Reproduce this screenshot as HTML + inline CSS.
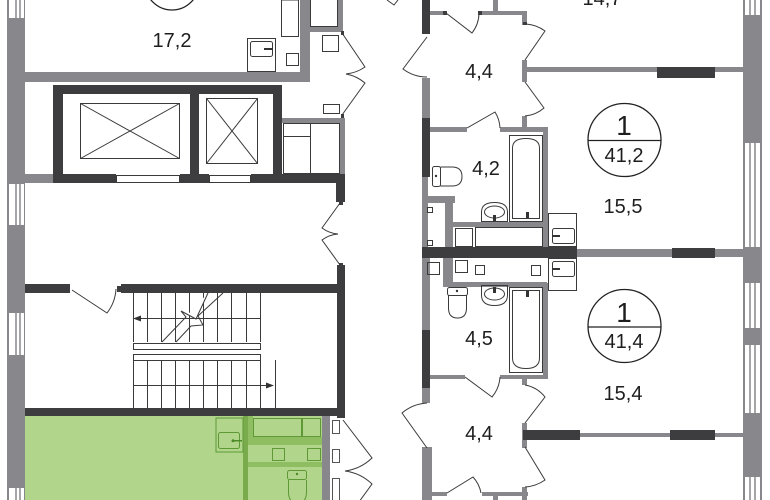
<!DOCTYPE html>
<html><head><meta charset="utf-8"><style>html,body{margin:0;padding:0;background:#fff;width:770px;height:500px;overflow:hidden}svg{display:block}</style></head>
<body>
<svg width="770" height="500" viewBox="0 0 770 500" xmlns="http://www.w3.org/2000/svg">
<rect width="770" height="500" fill="#fff"/>
<rect x="25" y="416" width="297" height="84" fill="#b2d58c"/>
<g fill="#8fbd62">
<rect x="248" y="416" width="5" height="21"/>
<rect x="248" y="437" width="74" height="8"/>
<rect x="248" y="462" width="74" height="5"/>
</g>
<rect x="243" y="416" width="5" height="84" fill="#79aa4c"/>
<g fill="none" stroke="#5e9936" stroke-width="1">
<rect x="216" y="418" width="27" height="34"/>
<rect x="218.5" y="432.5" width="21" height="16" rx="2"/>
<rect x="253.5" y="418.5" width="48" height="18"/>
<rect x="302.5" y="418.5" width="18" height="18"/>
<rect x="272.5" y="448.5" width="12" height="12"/>
<rect x="307.5" y="448.5" width="13" height="12"/>
<rect x="287.5" y="470.5" width="19" height="9" rx="2"/>
<path d="M288.5,480 L288.5,492 Q288.5,503 297.5,503 Q306.5,503 306.5,492 L306.5,480"/>
</g>
<circle cx="297" cy="474" r="1.2" fill="#4d8a28"/>
<rect x="233" y="440" width="9" height="1.5" fill="#4d8a28"/>
<circle cx="233" cy="440.7" r="1.5" fill="#4d8a28"/>
<text x="138" y="514" font-family="Liberation Sans, sans-serif" font-size="20" text-anchor="middle" fill="#2c3a1e">19,4</text>

<g fill="#88888c">
<rect x="7" y="0" width="18" height="500"/>
<rect x="743" y="0" width="19" height="500"/>
<rect x="25" y="72" width="285" height="10"/>
<rect x="300" y="0" width="10" height="82"/>
<rect x="309" y="27" width="34" height="5"/>
<rect x="338" y="0" width="5" height="32"/>
<rect x="25" y="174" width="37" height="9"/>
<rect x="282" y="118" width="63" height="5"/>
<rect x="340" y="118" width="5" height="56"/>
<rect x="430" y="11" width="15" height="4"/>
<rect x="480" y="11" width="47" height="4"/>
<rect x="493" y="0" width="5" height="13"/>
<rect x="522" y="11" width="5" height="14"/>
<rect x="422" y="78" width="8" height="40"/>
<rect x="522" y="60" width="5" height="22"/>
<rect x="527" y="67" width="216" height="5"/>
<rect x="430" y="127" width="37" height="5"/>
<rect x="500" y="127" width="48" height="5"/>
<rect x="522" y="116" width="5" height="14"/>
<rect x="543" y="127" width="5" height="120"/>
<rect x="422" y="177" width="6" height="73"/>
<rect x="422" y="196" width="33" height="7"/>
<rect x="445" y="196" width="8" height="52"/>
<rect x="453" y="222" width="90" height="5"/>
<rect x="577" y="249" width="95" height="8"/>
<rect x="715" y="249" width="28" height="8"/>
<rect x="422" y="258" width="8" height="72"/>
<rect x="443" y="258" width="10" height="29"/>
<rect x="453" y="282" width="94" height="5"/>
<rect x="543" y="283" width="5" height="95"/>
<rect x="430" y="375" width="35" height="4"/>
<rect x="500" y="375" width="48" height="4"/>
<rect x="522" y="377" width="5" height="8"/>
<rect x="422" y="388" width="8" height="15"/>
<rect x="580" y="433" width="92" height="4"/>
<rect x="715" y="433" width="28" height="4"/>
<rect x="522" y="423" width="5" height="25"/>
<rect x="522" y="487" width="5" height="13"/>
<rect x="422" y="447" width="10" height="53"/>
<rect x="430" y="492" width="17" height="4"/>
<rect x="482" y="492" width="46" height="4"/>
<rect x="493" y="492" width="5" height="8"/>
<rect x="322" y="416" width="8" height="84"/>
</g>

<g fill="#3d3d40">
<rect x="53" y="85" width="229" height="9"/>
<rect x="53" y="85" width="10" height="98"/>
<rect x="190" y="85" width="9" height="98"/>
<rect x="273" y="85" width="9" height="98"/>
<rect x="62" y="174" width="54" height="9"/>
<rect x="180" y="174" width="29" height="9"/>
<rect x="251" y="174" width="94" height="9"/>
<rect x="336" y="174" width="9" height="28"/>
<rect x="25" y="284" width="45" height="9"/>
<rect x="117" y="286" width="5" height="6"/>
<rect x="121" y="284" width="216" height="9"/>
<rect x="337" y="265" width="8" height="153"/>
<rect x="25" y="408" width="320" height="8"/>
<rect x="422" y="0" width="8" height="34"/>
<rect x="422" y="118" width="8" height="59"/>
<rect x="422" y="247" width="155" height="11"/>
<rect x="672" y="248" width="43" height="10"/>
<rect x="657" y="67" width="58" height="11"/>
<rect x="422" y="330" width="8" height="58"/>
<rect x="523" y="430" width="57" height="10"/>
<rect x="670" y="430" width="45" height="10"/>
<rect x="443" y="11" width="4" height="4"/>
<rect x="478" y="11" width="4" height="4"/>
<rect x="523" y="22" width="4" height="3"/>
<rect x="341" y="31" width="3" height="4"/>
<rect x="341" y="114" width="3" height="4"/>
<rect x="339" y="201" width="4" height="4"/>
<rect x="339" y="263" width="4" height="4"/>
</g>

<g fill="#fff">
<rect x="9" y="0" width="15" height="18"/>
<rect x="9" y="184" width="15" height="41"/>
<rect x="9" y="313" width="15" height="42"/>
<rect x="9" y="488" width="15" height="12"/>
<rect x="745" y="0" width="15" height="15"/>
<rect x="745" y="143" width="15" height="104"/>
<rect x="745" y="283" width="15" height="45"/>
<rect x="745" y="345" width="15" height="68"/>
<rect x="745" y="477" width="15" height="23"/>
</g>
<g stroke="#88888c" stroke-width="1.5">
<path d="M16,0V18M20,0V18M16,184V225M20,184V225M16,313V355M20,313V355M16,488V500M20,488V500"/>
<path d="M750,0V15M755,0V15M750,143V247M755,143V247M750,283V328M755,283V328M750,345V413M755,345V413M750,477V500M755,477V500"/>
</g>

<g fill="none" stroke="#3a3a3a" stroke-width="1">
<rect x="116.5" y="175.5" width="63" height="7" fill="#fff"/>
<rect x="209.5" y="175.5" width="41" height="7" fill="#fff"/>
<rect x="80.5" y="103.5" width="99" height="55"/>
<path d="M80.5,103.5L179.5,158.5M179.5,103.5L80.5,158.5"/>
<rect x="206.5" y="98.5" width="51" height="65"/>
<path d="M206.5,98.5L257.5,163.5M257.5,98.5L206.5,163.5"/>
<rect x="283.5" y="123.5" width="27" height="13"/>
<rect x="283.5" y="136.5" width="27" height="37"/>
<rect x="310.5" y="123.5" width="29" height="50"/>
<rect x="247.5" y="38.5" width="28" height="33"/>
<rect x="250.5" y="41.5" width="22" height="15" rx="2"/>
<rect x="281.5" y="0" width="17" height="36.5"/>
<rect x="286.5" y="53.5" width="12" height="12"/>
<rect x="310.5" y="-1" width="27" height="27.5"/>
<rect x="322.5" y="35.5" width="16" height="16"/>
<rect x="323.5" y="104.5" width="16" height="9"/>
<circle cx="172" cy="-17" r="27" stroke="#222" stroke-width="1.3"/>
<path d="M342,33 L365,67 A41,41 0 0 1 346,74 A41,41 0 0 1 365,83 L342,115"/>
<path d="M340,203 L322,228 A31,31 0 0 0 338,234 A31,31 0 0 0 322,240 L340,265"/>
<path d="M343,420 L372,458 A48,48 0 0 1 345,471 A48,48 0 0 1 372,484 L343,524"/>
<path d="M387,0 L394,5 L398,0"/>
<path d="M427,37 L403,69 A40,40 0 0 0 427,77"/>
<path d="M446,13 L472,33 A33,33 0 0 0 479,13"/>
<path d="M526,24 A36,36 0 0 1 545,31 L525,60"/>
<path d="M525,82 L544,108 A33,33 0 0 1 525,116"/>
<path d="M467,128 L495,112 A33,33 0 0 1 500,128"/>
<path d="M465,377 L492,397 A34,34 0 0 0 500,377"/>
<path d="M525,385 A33,33 0 0 1 545,397 L525,423"/>
<path d="M525,447 L545,480 A39,39 0 0 1 525,487"/>
<path d="M427,403 A43,43 0 0 0 402,413 L427,448"/>
<path d="M447,493 L473,477 A32,32 0 0 1 481,493"/>
<path d="M72,290 L107,313 A43,43 0 0 0 116,289"/>
<path d="M133.5,293V342M147.5,293V342M161.5,293V342M175.5,293V342M189.5,293V342M203.5,293V342M217.5,293V342M231.5,293V342M246.5,293V342M260.5,293V342"/>
<path d="M133.5,361V408M147.5,361V408M161.5,361V408M175.5,361V408M189.5,361V408M203.5,361V408M217.5,361V408M231.5,361V408M246.5,361V408M260.5,361V408"/>
<path d="M136,318.5H261M133,385.5H268M275.5,360V408"/>
<rect x="133.5" y="343.5" width="127" height="6"/>
<rect x="133.5" y="354.5" width="127" height="6"/>
<path d="M162,342 L186,317 L181,311 L196,319 L208,293" fill="#fff"/>
<path d="M176,342 L191,326 L203,325 L198,316 L223,293"/>
<rect x="427.5" y="207.5" width="5" height="5"/>
<rect x="427.5" y="240.5" width="5" height="5"/>
<rect x="455.5" y="228.5" width="17" height="18"/>
<rect x="475.5" y="227.5" width="67" height="19"/>
<rect x="548.5" y="213.5" width="28" height="33"/>
<rect x="552.5" y="228.5" width="22" height="15" rx="2"/>
<rect x="548.5" y="258.5" width="28" height="32"/>
<rect x="552.5" y="261.5" width="22" height="15" rx="2"/>
<rect x="427.5" y="262.5" width="12" height="12"/>
<rect x="455.5" y="260.5" width="12" height="12"/>
<rect x="475.5" y="265.5" width="9" height="9"/>
<rect x="531.5" y="265.5" width="9" height="10"/>
<rect x="509.5" y="135.5" width="33" height="86"/>
<path d="M512.5,218.5 V148 Q512.5,138.5 526,138.5 Q539.5,138.5 539.5,148 V218.5 Z"/>
<path d="M481.5,221.5 V212 Q481.5,202.5 494.5,202.5 Q507.5,202.5 507.5,212 V221.5 Z"/>
<ellipse cx="494.5" cy="212" rx="10" ry="6"/>
<rect x="432.5" y="166.5" width="8" height="20" rx="2"/>
<path d="M440.5,167 H452 Q462,167 462,176.5 Q462,186 452,186 H440.5"/>
<rect x="509.5" y="287.5" width="33" height="85"/>
<path d="M512.5,290.5 V358 Q512.5,368.5 526,368.5 Q539.5,368.5 539.5,358 V290.5 Z"/>
<path d="M481.5,285.5 V295 Q481.5,305.5 494.5,305.5 Q507.5,305.5 507.5,295 V285.5 Z"/>
<ellipse cx="494.5" cy="294" rx="10" ry="6"/>
<rect x="447.5" y="287.5" width="20" height="8" rx="2"/>
<path d="M448.5,295.5 V308 Q448.5,318 457.5,318 Q466.5,318 466.5,308 V295.5"/>
<rect x="332.5" y="420.5" width="7" height="13" stroke="#555"/>
<rect x="332.5" y="449.5" width="7" height="13" stroke="#555"/>
<rect x="332.5" y="478.5" width="7" height="23" stroke="#555"/>
</g>
<g fill="#333">
<polygon points="133,318.5 141,315.5 141,321.5"/>
<polygon points="274,385.5 266,382.5 266,388.5"/>
<rect x="264" y="48" width="9" height="2"/>
<circle cx="436" cy="176" r="1.2"/>
<circle cx="457" cy="291" r="1.2"/>
<rect x="493" y="215" width="3" height="6"/>
<rect x="493" y="287" width="3" height="6"/>
<rect x="526" y="212" width="3" height="6"/>
<rect x="526" y="291" width="3" height="6"/>
<rect x="552" y="235" width="8" height="2"/>
<rect x="552" y="268" width="8" height="2"/>
</g>

<g fill="none" stroke="#222" stroke-width="1.3">
<circle cx="624.5" cy="140" r="36.5"/>
<path d="M588,140.5H661"/>
<circle cx="624.5" cy="326" r="36.5"/>
<path d="M588,327H661"/>
</g>

<g font-family="Liberation Sans, sans-serif" font-size="20" fill="#1e1e1e" text-anchor="middle">
<text x="172" y="47">17,2</text>
<text x="602" y="5">14,7</text>
<text x="479" y="78">4,4</text>
<text x="486" y="175">4,2</text>
<text x="623" y="213">15,5</text>
<text x="624" y="135" font-size="28">1</text>
<text x="624" y="162">41,2</text>
<text x="624" y="322" font-size="28">1</text>
<text x="624" y="348">41,4</text>
<text x="479" y="345">4,5</text>
<text x="623" y="400">15,4</text>
<text x="479" y="440">4,4</text>
</g>
</svg>
</body></html>
